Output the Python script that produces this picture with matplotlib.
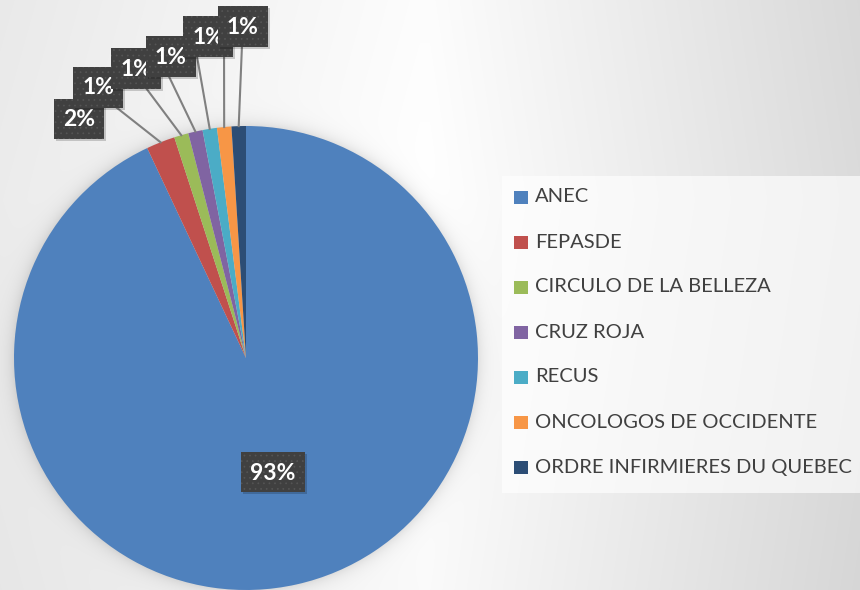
import numpy as np
import matplotlib.pyplot as plt
from matplotlib.patches import Rectangle

plt.rcParams['font.family'] = ['Lato', 'DejaVu Sans']
plt.rcParams['hatch.color'] = '#555555'
plt.rcParams['hatch.linewidth'] = 0.5

# data
names = ['ANEC', 'FEPASDE', 'CIRCULO DE LA BELLEZA', 'CRUZ ROJA', 'RECUS',
         'ONCOLOGOS DE OCCIDENTE', 'ORDRE INFIRMIERES DU QUEBEC']
values = [93, 2, 1, 1, 1, 1, 1]
colors = ['#4F81BD', '#C0504D', '#9BBB59', '#8064A2', '#4BACC6', '#F79646', '#2C4D75']

W, H = 860, 590
cx, cy, R = 246, 358, 232   # pie centre / radius in pixels (y measured from top)

# label boxes (centre x, centre y from top, width, height) and where leader lines end
boxes = [(273, 472, 64, 40), (79, 119, 50, 40), (98, 87, 50, 41), (136, 68, 50, 41),
         (171, 56, 50, 41), (208, 36, 50, 41), (243, 26, 50, 41)]
line_ends = [None, (112, 104), (140, 80), (163, 64), (195, 45), (224, 30), (242, 45)]


def fy(y):
    return H - y


fig = plt.figure(figsize=(8.6, 5.9), dpi=100)
ax = fig.add_axes([0, 0, 1, 1])

# background: soft gradient plus pie glow
xx, yy = np.meshgrid(np.arange(W) + 0.5, np.arange(H) + 0.5)
v = 1 - 0.075 * np.clip((420 - xx) / 420, 0, 1) - 0.14 * np.clip((xx - 430) / 430, 0, 1)
v = v - 0.02 * np.clip(np.abs(yy - 200) / 400, 0, 1)
r = np.hypot(xx - cx, yy - cy)
v = v - 0.10 * np.exp(-np.clip(r - R, 0, None) / 7.0)
v = np.clip(v, 0, 1)
ax.imshow(np.dstack([v, v, v]), extent=(0, W, 0, H), origin='upper', zorder=0)

wedges, _ = ax.pie(values, colors=colors, startangle=90, counterclock=False,
                   center=(cx, fy(cy)), radius=R, frame=True,
                   wedgeprops=dict(linewidth=0))
for w in wedges:
    w.set_zorder(2)

total = sum(values)
for i, w in enumerate(wedges):
    bx, by, bw, bh = boxes[i]
    if line_ends[i] is not None:
        mid = np.deg2rad((w.theta1 + w.theta2) / 2)
        x0 = cx + R * np.cos(mid)
        y0 = fy(cy) + R * np.sin(mid)
        ex, ey = line_ends[i]
        ax.plot([x0, ex], [y0, fy(ey)], color='#808080', lw=1.5, zorder=3)
    z = 4 + i
    ax.add_patch(Rectangle((bx - bw / 2 + 2, fy(by) - bh / 2 - 2), bw, bh,
                           facecolor='#000000', alpha=0.18, lw=0, zorder=z))
    ax.add_patch(Rectangle((bx - bw / 2, fy(by) - bh / 2), bw, bh,
                           facecolor='#404040', hatch='...', zorder=z))
    ax.text(bx, fy(by) - 1, f'{values[i] / total * 100:.0f}%', color='white',
            fontsize=16.5, fontweight='bold', ha='center', va='center', zorder=z)

# legend
ax.add_patch(Rectangle((502, fy(493)), 380, 317, facecolor='white', alpha=0.65,
                       lw=0, zorder=3))
for i, name in enumerate(names):
    ly = 197 + 45 * i
    ax.add_patch(Rectangle((514, fy(ly) - 6.5), 14, 13, facecolor=colors[i], lw=0, zorder=4))
    ax.text(535, fy(ly), name, color='#404040', fontsize=14.5, ha='left',
            va='center', zorder=4)

ax.set_xlim(0, W)
ax.set_ylim(0, H)
ax.set_aspect('auto')
ax.axis('off')

fig.savefig('out.png', dpi=100)
